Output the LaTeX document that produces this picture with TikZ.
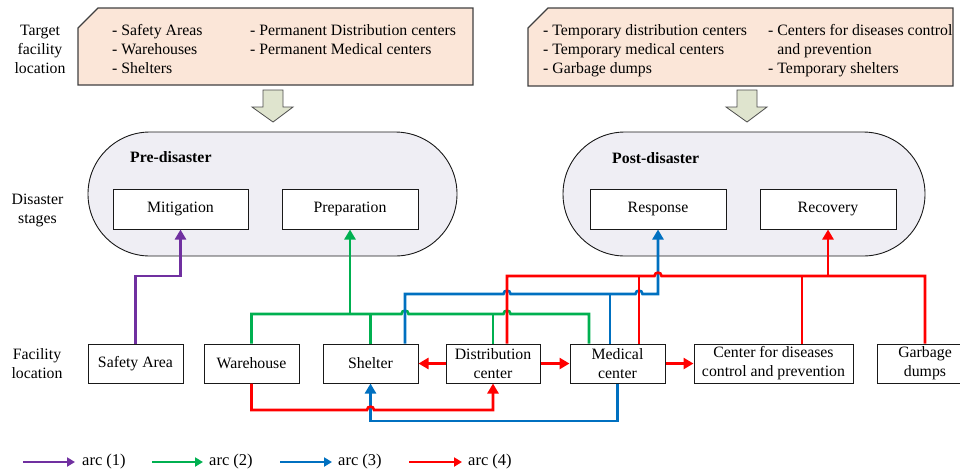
\documentclass[tikz,border=0pt]{standalone}
\usepackage{fontspec}
\setmainfont{Liberation Serif}
\usetikzlibrary{arrows.meta}
\definecolor{cpur}{HTML}{7030A0}
\definecolor{cgrn}{HTML}{00B050}
\definecolor{cblu}{HTML}{0070C0}
\definecolor{cred}{HTML}{FF0000}
\definecolor{cpeach}{HTML}{FBE6D8}
\definecolor{ccaps}{HTML}{EFEEF4}
\definecolor{cblock}{HTML}{DFE4CE}
\begin{document}
\begin{tikzpicture}[x=1pt,y=-1pt,
  font=\fontsize{15.8}{19}\selectfont,
  fbox/.style={draw=black!90, line width=1pt, fill=white, minimum height=39pt, inner sep=0pt, align=center},
  sbox/.style={draw=black!90, line width=1pt, fill=white, minimum height=40pt, minimum width=136pt, inner sep=0pt},
  capsule/.style={draw=black!90, line width=0.9pt, fill=ccaps, rounded corners=61.9pt, minimum height=124pt, inner sep=0pt},
  lbl/.style={align=center, inner sep=0pt},
  lst/.style={align=left, inner sep=0pt, anchor=north west},
  cl/.style={line width=2.6pt},
  pl/.style={cl, draw=cpur},
  gl/.style={cl, draw=cgrn},
  bl/.style={cl, draw=cblu},
  rl/.style={cl, draw=cred},
  arr/.style={-{Triangle[length=10pt,width=11pt]}},
  larr/.style={-{Triangle[length=8pt,width=9pt]}},
  legtxt/.style={anchor=west, inner sep=0pt, font=\fontsize{16.5}{19}\selectfont},
  tbox/.style={draw=black!75, line width=1.2pt, fill=cpeach},
  blockarrow/.style={draw=black!70, line width=0.8pt, fill=cblock}
]
\useasboundingbox (0,0) rectangle (960,475);

% ---- top boxes
\draw[tbox] (78,28) -- (98,8) -- (473,8) -- (473,85) -- (78,85) -- cycle;
\draw[tbox] (528,28) -- (548,8) -- (953,8) -- (953,86) -- (528,86) -- cycle;
\node[lbl] (tfl) at (40,49) {Target\\facility\\location};
\node[lst] (t1a) at (112,21.7) {\strut- Safety Areas\\- Warehouses\\- Shelters};
\node[lst] (t1b) at (250,21.7) {\strut- Permanent Distribution centers\\- Permanent Medical centers};
\node[lst] (t2a) at (543,21.7) {\strut- Temporary distribution centers\\- Temporary medical centers\\- Garbage dumps};
\node[lst] (t2b) at (768,21.7) {\strut- Centers for diseases control\\\phantom{- }and prevention\\- Temporary shelters};

% ---- block arrows
\draw[blockarrow] (263,90) -- (283,90) -- (283,107) -- (293,107) -- (273,122) -- (252,107) -- (263,107) -- cycle;
\draw[blockarrow] (737,90) -- (757,90) -- (757,107) -- (767,107) -- (747,122) -- (726,107) -- (737,107) -- cycle;

% ---- disaster stages
\node[capsule, minimum width=369pt] (pre) at (272.5,194) {};
\node[capsule, minimum width=362pt] (post) at (744,194) {};
\node[anchor=west, inner sep=0pt, font=\fontsize{15.8}{19}\selectfont\bfseries] (pret) at (130,157) {Pre-disaster};
\node[anchor=west, inner sep=0pt, font=\fontsize{15.8}{19}\selectfont\bfseries] (postt) at (612,158) {Post-disaster};
\node[sbox, minimum width=135pt] (mit) at (180.5,209) {Mitigation};
\node[sbox] (prep) at (350,209) {Preparation};
\node[sbox] (resp) at (658,209) {Response};
\node[sbox] (rec) at (828,209) {Recovery};
\node[lbl] (dst) at (37.5,210) {Disaster\\stages};

% ---- facilities
\node[lbl] (fl) at (37,363.5) {Facility\\location};
\node[fbox, minimum width=95pt] (sa) at (135.5,363.5) {Safety Area};
\node[fbox, minimum width=95pt] (wh) at (251.5,363.5) {Warehouse};
\node[fbox, minimum width=95pt] (sh) at (370.5,363.5) {Shelter};
\node[fbox, minimum width=94pt] (dc) at (493,363.5) {Distribution\\center};
\node[fbox, minimum width=95pt] (med) at (617.5,363.5) {Medical\\center};
\node[fbox, minimum width=159pt] (cdc) at (773.5,363.5) {Center for diseases\\control and prevention};
\node[fbox, minimum width=96pt] (gd) at (925,363.5) {Garbage\\dumps};

% ---- arc (1)
\draw[pl,arr] (sa.north) -- (sa.north |- 0,276) -| (mit.south);

% ---- arc (2)
\draw[gl] (wh.north) -- (wh.north |- 0,314) -- (401.5,314)
  .. controls (401.5,309.5) and (408.5,309.5) .. (408.5,314) -- (503.5,314)
  .. controls (503.5,309.5) and (510.5,309.5) .. (510.5,314) -- (589,314) -- (med.north -| 589,0);
\draw[gl] (sh.north) -- (sh.north |- 0,314);
\draw[gl] (dc.north) -- (dc.north |- 0,314);
\draw[gl,arr] (prep.south |- 0,314) -- (prep.south);

% ---- arc (3)
\draw[bl,arr] (sh.north -| 405,0) -- (405,294) -- (503.5,294)
  .. controls (503.5,289.5) and (510.5,289.5) .. (510.5,294) -- (635.5,294)
  .. controls (635.5,289.5) and (642.5,289.5) .. (642.5,294) -- (resp.south |- 0,294) -- (resp.south);
\draw[bl] (med.north -| 610,0) -- (610,294);
\draw[bl,arr] (med.south) -- (med.south |- 0,421) -| (sh.south);

% ---- arc (4)
\draw[rl] (dc.north -| 507,0) -- (507,276) -- (654.5,276)
  .. controls (654.5,271.5) and (661.5,271.5) .. (661.5,276) -- (gd.north |- 0,276) -- (gd.north);
\draw[rl] (med.north -| 639,0) -- (639,276);
\draw[rl] (cdc.north -| 802,0) -- (802,276);
\draw[rl,arr] (rec.south |- 0,276) -- (rec.south);
\draw[rl,arr] (wh.south) -- (wh.south |- 0,410) -- (367,410)
  .. controls (367,405.5) and (374,405.5) .. (374,410) -| (dc.south);
\draw[rl,arr] (dc.west) -- (sh.east);
\draw[rl,arr] (dc.east) -- (med.west);
\draw[rl,arr] (med.east) -- (cdc.west);

% ---- legend
\coordinate (l1s) at (23,462);
\coordinate (l2s) at (152,462);
\coordinate (l3s) at (280,462);
\coordinate (l4s) at (409,462);
\node[legtxt] (l1) at (82,462) {arc (1)};
\node[legtxt] (l2) at (209,462) {arc (2)};
\node[legtxt] (l3) at (338,462) {arc (3)};
\node[legtxt] (l4) at (468,462) {arc (4)};
\draw[pl,larr] (l1s) -- ([xshift=-7pt]l1.west);
\draw[gl,larr] (l2s) -- ([xshift=-6pt]l2.west);
\draw[bl,larr] (l3s) -- ([xshift=-6pt]l3.west);
\draw[rl,larr] (l4s) -- ([xshift=-6pt]l4.west);
\end{tikzpicture}
\end{document}
